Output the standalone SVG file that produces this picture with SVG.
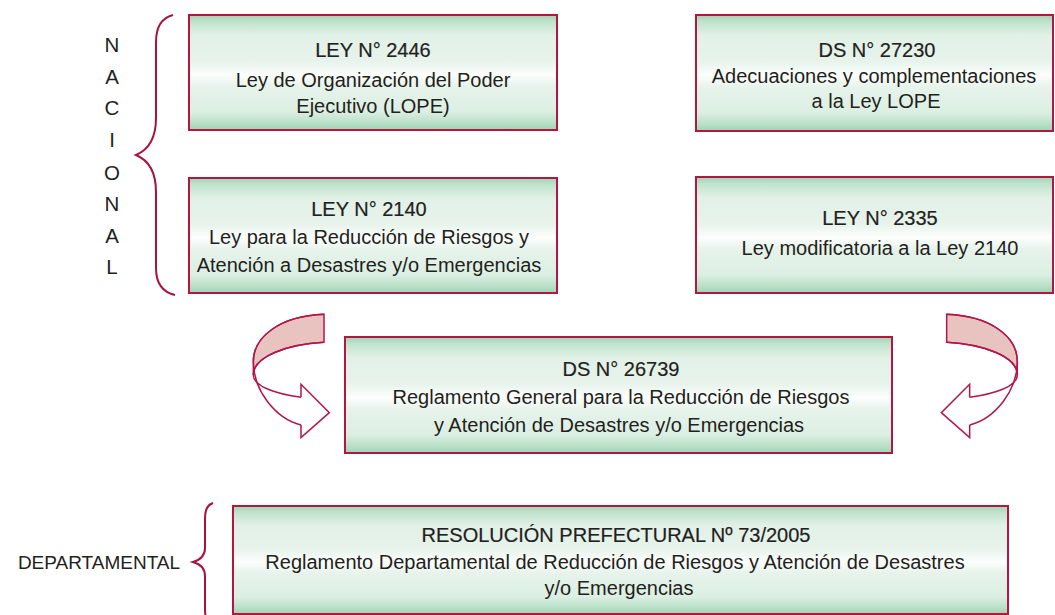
<svg xmlns="http://www.w3.org/2000/svg" xmlns:xlink="http://www.w3.org/1999/xlink" width="1055" height="615" viewBox="0 0 1055 615">
<style>
.box{fill:url(#g);stroke:#b3163f;stroke-width:2}
.t{font-family:"Liberation Sans",Arial,sans-serif;font-size:20px;fill:#231f20;text-anchor:middle}
.h{font-family:"Liberation Sans",Arial,sans-serif;font-size:20px;fill:#231f20;text-anchor:middle;stroke:#231f20;stroke-width:0.2}
.lbl{font-family:"Liberation Sans",Arial,sans-serif;font-size:20.5px;fill:#231f20;text-anchor:middle}
.dep{font-family:"Liberation Sans",Arial,sans-serif;font-size:19px;fill:#231f20;text-anchor:middle}
.brace{fill:none;stroke:#a8123e;stroke-width:2}
.arw{stroke:#b0184a;stroke-width:4.5;stroke-linejoin:miter}
</style>
<defs>
<linearGradient id="g" x1="0" y1="0" x2="0" y2="1">
<stop offset="0" stop-color="#9fd3b3"/>
<stop offset="0.06" stop-color="#c0e3cd"/>
<stop offset="0.18" stop-color="#e2f1e7"/>
<stop offset="0.4" stop-color="#e7f3eb"/>
<stop offset="0.52" stop-color="#fcfefc"/>
<stop offset="0.62" stop-color="#e7f3eb"/>
<stop offset="0.84" stop-color="#dcefe3"/>
<stop offset="0.94" stop-color="#b9e0c8"/>
<stop offset="1" stop-color="#9fd3b3"/>
</linearGradient>
<g id="arrowL" transform="translate(220,290) scale(0.33333)">
<path class="arw" fill="#e9c3bf" d="M312,73 C180,78 100,140 100,215 L100,255 C100,200 200,163 312,157 Z"/>
<path class="arw" fill="none" d="M312,73 C180,78 100,140 100,215 C100,300 165,385 243,405"/>
<path class="arw" fill="none" d="M312,157 C200,163 100,200 100,255 C100,290 170,312 243,322"/>
<path class="arw" fill="none" d="M243,322 L243,283 L328,368 L243,443 L243,405"/>
</g>
</defs>
<rect width="1055" height="615" fill="#ffffff"/>

<g id="label-nacional">
<text class="lbl" x="112" y="52">N</text>
<text class="lbl" x="112" y="84">A</text>
<text class="lbl" x="112" y="115">C</text>
<text class="lbl" x="112" y="147">I</text>
<text class="lbl" x="112" y="180">O</text>
<text class="lbl" x="112" y="211">N</text>
<text class="lbl" x="112" y="243">A</text>
<text class="lbl" x="112" y="274">L</text>
<path class="brace" d="M173,15 C161,18 156,28 156,42 L156,118 C156,138 148,150 136,155 C148,160 156,172 156,192 L156,268 C156,282 162,292 175,295"/>
</g>

<g id="label-departamental">
<text class="dep" x="99" y="569">DEPARTAMENTAL</text>
<path class="brace" d="M213,503 C207,505 205,510 205,520 L205,548 C205,556 200,560 193,562 C200,564 205,568 205,576 L205,610 C205,618 208,622 213,624"/>
</g>

<g id="ley2446">
<rect class="box" x="189" y="15" width="368" height="115"/>
<text class="h" x="373" y="57">LEY N° 2446</text>
<text class="t" x="373" y="87">Ley de Organización del Poder</text>
<text class="t" x="373" y="113">Ejecutivo (LOPE)</text>
</g>

<g id="ds27230">
<rect class="box" x="696" y="15" width="357" height="116"/>
<text class="h" x="877" y="57">DS N° 27230</text>
<text class="t" x="874" y="83">Adecuaciones y complementaciones</text>
<text class="t" x="876" y="108">a la Ley LOPE</text>
</g>

<g id="ley2140">
<rect class="box" x="189" y="178" width="368" height="115"/>
<text class="h" x="369" y="216">LEY N° 2140</text>
<text class="t" x="369" y="244">Ley para la Reducción de Riesgos y</text>
<text class="t" x="369" y="272">Atención a Desastres y/o Emergencias</text>
</g>

<g id="ley2335">
<rect class="box" x="696" y="177" width="357" height="116"/>
<text class="h" x="880" y="225">LEY N° 2335</text>
<text class="t" x="880" y="255">Ley modificatoria a la Ley 2140</text>
</g>

<g id="ds26739">
<rect class="box" x="345" y="337" width="547" height="116"/>
<text class="h" x="621" y="376">DS N° 26739</text>
<text class="t" x="621" y="404">Reglamento General para la Reducción de Riesgos</text>
<text class="t" x="619" y="432">y Atención de Desastres y/o Emergencias</text>
</g>

<g id="resolucion">
<rect class="box" x="233" y="506" width="775" height="108"/>
<text class="h" x="616" y="542">RESOLUCIÓN PREFECTURAL Nº 73/2005</text>
<text class="t" x="615" y="569">Reglamento Departamental de Reducción de Riesgos y Atención de Desastres</text>
<text class="t" x="619" y="595">y/o Emergencias</text>
</g>

<g id="connectors">
<use xlink:href="#arrowL"/>
<use xlink:href="#arrowL" transform="translate(1270.67,0) scale(-1,1)"/>
</g>
</svg>
